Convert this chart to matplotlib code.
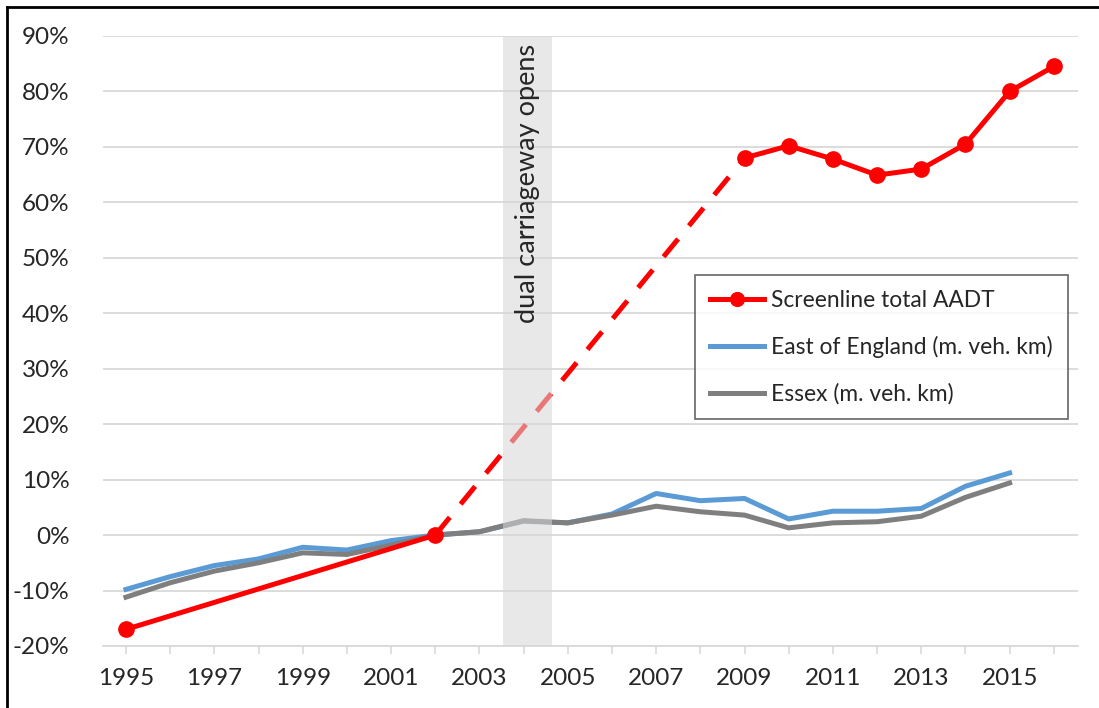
import matplotlib
matplotlib.use("Agg")
import matplotlib.pyplot as plt
import numpy as np

plt.rcParams['font.family'] = ['Lato', 'DejaVu Sans']

years = list(range(1995, 2017))

# screenline AADT, only measured in some years (% change from 2002)
red_years = [1995, 2002, 2009, 2010, 2011, 2012, 2013, 2014, 2015, 2016]
red_vals = [-17.0, 0.0, 68.0, 70.2, 67.8, 64.9, 66.0, 70.5, 80.0, 84.5]

east_years = list(range(1995, 2016))
east_vals = [-9.8, -7.5, -5.5, -4.3, -2.2, -2.7, -1.0, 0.0, 0.6, 2.5, 2.2,
             3.8, 7.5, 6.2, 6.6, 2.9, 4.3, 4.3, 4.8, 8.8, 11.2]
essex_vals = [-11.2, -8.6, -6.5, -5.0, -3.2, -3.5, -1.8, 0.0, 0.6, 2.6, 2.2,
              3.6, 5.2, 4.2, 3.6, 1.3, 2.2, 2.4, 3.4, 6.8, 9.4]

band = (2003.53, 2004.64)
yticks = list(range(-20, 91, 10))

RED = '#ff0000'
BLUE = '#5b9bd5'
GREY = '#7f7f7f'

fig = plt.figure(figsize=(10.99, 7.08), dpi=100)
ax = fig.add_axes([0.0937, 0.0876, 0.8873, 0.8616])

for y in yticks:
    ax.axhline(y, color='#d9d9d9', lw=1.3, zorder=0)

ax.plot(east_years, east_vals, color=BLUE, lw=3.6, solid_joinstyle='round', zorder=2)
ax.plot(east_years, essex_vals, color=GREY, lw=3.6, solid_joinstyle='round', zorder=2)

# red: solid before, dashed across the gap, solid with markers after
i02 = red_years.index(2002)
i09 = red_years.index(2009)
ax.plot(red_years[:i02 + 1], red_vals[:i02 + 1], color=RED, lw=3.6, zorder=3)
ax.plot(red_years[i02:i09 + 1], red_vals[i02:i09 + 1], color=RED, lw=3.6,
        dashes=(4.6, 3.4), dash_capstyle='butt', zorder=3)
ax.plot(red_years[i09:], red_vals[i09:], color=RED, lw=3.6, zorder=3)
ax.plot(red_years, red_vals, 'o', color=RED, ms=11, zorder=4)

ax.axvspan(band[0], band[1], color='#d6d6d6', alpha=0.56, lw=0, zorder=5)
ax.text((band[0] + band[1]) / 2, 88.6, 'dual carriageway opens', rotation=90,
        ha='center', va='top', fontsize=19.5, color='#262626', zorder=6)

# legend proxies
h_red, = ax.plot([], [], '-o', color=RED, lw=3.6, ms=11)
h_blue, = ax.plot([], [], color=BLUE, lw=3.6)
h_grey, = ax.plot([], [], color=GREY, lw=3.6)
leg = ax.legend([h_red, h_blue, h_grey],
                ['Screenline total AADT', 'East of England (m. veh. km)', 'Essex (m. veh. km)'],
                loc='upper left', bbox_to_anchor=(0.607, 0.608), fontsize=16.4,
                frameon=True, fancybox=False, handlelength=2.4, handletextpad=0.3,
                labelspacing=1.1, borderpad=0.65, borderaxespad=0, markerscale=0.9)
leg.get_frame().set_edgecolor('#404040')
leg.get_frame().set_linewidth(1.2)
leg.set_zorder(7)
for t in leg.get_texts():
    t.set_color('#262626')

ax.set_xlim(1994.48, 2016.55)
ax.set_ylim(-20, 90)
ax.set_yticks(yticks)
ax.set_yticklabels([f'{v}%' for v in yticks])
ax.set_xticks(years)
ax.set_xticklabels([str(y) if y % 2 == 1 else '' for y in years])
ax.tick_params(axis='y', length=0, pad=24, labelsize=17.5, labelcolor='#262626')
ax.tick_params(axis='x', length=6, width=1.2, color='#d9d9d9', pad=10,
               labelsize=17.5, labelcolor='#262626')

for s in ['top', 'right', 'left']:
    ax.spines[s].set_visible(False)
ax.spines['bottom'].set_color('#d9d9d9')
ax.spines['bottom'].set_linewidth(1.3)

# outer frame (top and left edges of the cropped chart box)
fig.add_artist(plt.Line2D([0.0065, 1.0], [0.9895, 0.9895], color='black', lw=2,
                          transform=fig.transFigure))
fig.add_artist(plt.Line2D([0.0065, 0.0065], [0.0, 0.9895], color='black', lw=2,
                          transform=fig.transFigure))

fig.savefig('out.png', dpi=100)
